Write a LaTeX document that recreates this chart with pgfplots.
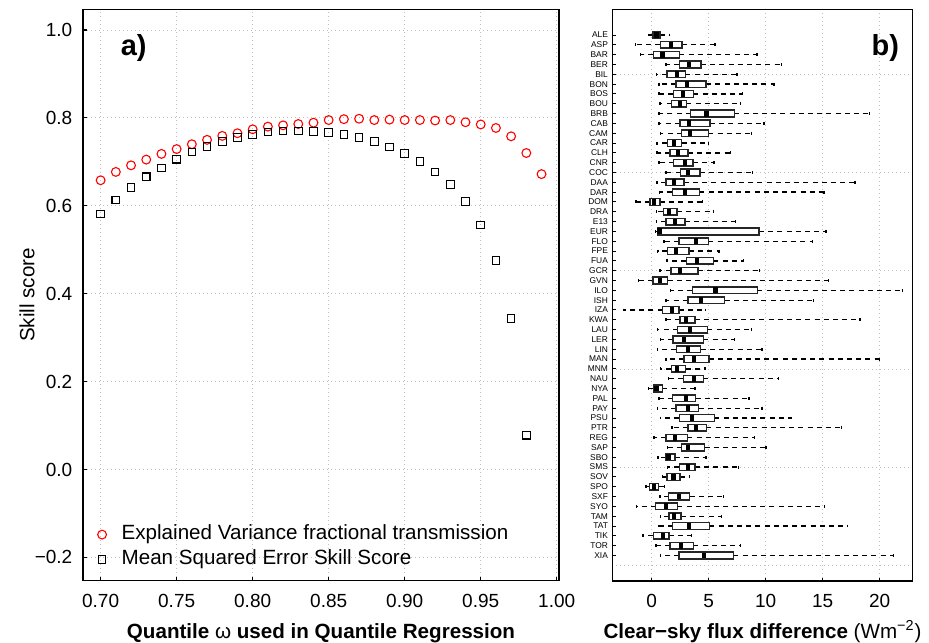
\documentclass[border=0pt]{standalone}
\usepackage{fontspec}
\setmainfont{Liberation Sans}
\usepackage{pgfplots}
\pgfplotsset{compat=1.18}
\usepgfplotslibrary{statistics}
\newcommand{\bx}[6]{\addplot[black, boxplot prepared={draw position=#1, lower whisker=#2, lower quartile=#3, median=#4, upper quartile=#5, upper whisker=#6}] coordinates {};}
\begin{document}
\begin{tikzpicture}
\useasboundingbox (0,0) rectangle (464.5pt,321pt);
% ---------------- panel a ----------------
\begin{axis}[
  at={(41.5pt,30.65pt)}, anchor=south west,
  scale only axis, width=238pt, height=285.7pt,
  xmin=0.6884, xmax=1.0015, ymin=-0.253, ymax=1.047,
  axis line style={line width=0.7pt},
  tick pos=left, tick align=inside, major tick length=2pt,
  tick style={black, line width=0.6pt},
  grid=major, grid style={gray!50, line width=0.4pt, dash pattern=on 0.5pt off 1.5pt},
  xtick={0.7,0.75,0.8,0.85,0.9,0.95,1.0},
  xticklabels={0.70,0.75,0.80,0.85,0.90,0.95,1.00},
  ytick={-0.2,0,0.2,0.4,0.6,0.8,1.0},
  yticklabels={−0.2,0.0,0.2,0.4,0.6,0.8,1.0},
  ticklabel style={font=\fontsize{9.5}{11}\selectfont, inner sep=0pt},
  xticklabel style={anchor=north, yshift=-6.65pt},
  yticklabel style={anchor=east, xshift=-5.15pt},
  every axis x label/.style={at={(axis description cs:0.5,-0.1003)}, anchor=base},
  every axis y label/.style={at={(axis description cs:-0.1176,0.5)}, rotate=90, anchor=center},
  label style={font=\fontsize{10.3}{12}\selectfont},
  xlabel={\textbf{Quantile {\mdseries ω} used in Quantile Regression}},
  ylabel={Skill score},
  legend style={at={(axis description cs:0.0300,0.098)}, anchor=north west, draw=none, fill=none,
    inner sep=0pt, row sep=3pt, column sep=7.6pt,
    font=\fontsize{10.3}{12}\selectfont,
    nodes={inner sep=0pt, text height=7.4pt, text depth=2.1pt}},
  legend cell align=left,
]
\addplot[only marks, mark=o, mark size=2.2pt, red, mark options={line width=0.55pt}] coordinates {
(0.70,0.658) (0.71,0.677) (0.72,0.692) (0.73,0.705) (0.74,0.718) (0.75,0.729)
(0.76,0.740) (0.77,0.750) (0.78,0.759) (0.79,0.765) (0.80,0.774) (0.81,0.780)
(0.82,0.783) (0.83,0.786) (0.84,0.789) (0.85,0.795) (0.86,0.797) (0.87,0.798)
(0.88,0.795) (0.89,0.796) (0.90,0.795) (0.91,0.795) (0.92,0.794) (0.93,0.795)
(0.94,0.790) (0.95,0.785) (0.96,0.777) (0.97,0.758) (0.98,0.720) (0.99,0.672)
};
\addlegendentry{Explained Variance fractional transmission}
\addplot[only marks, mark=square, mark size=1.9pt, black, mark options={line width=0.55pt}] coordinates {
(0.70,0.581) (0.71,0.613) (0.72,0.642) (0.73,0.666) (0.74,0.686) (0.75,0.706)
(0.76,0.722) (0.77,0.735) (0.78,0.746) (0.79,0.755) (0.80,0.762) (0.81,0.768)
(0.82,0.770) (0.83,0.770) (0.84,0.769) (0.85,0.767) (0.86,0.762) (0.87,0.755)
(0.88,0.746) (0.89,0.734) (0.90,0.719) (0.91,0.701) (0.92,0.677) (0.93,0.648)
(0.94,0.610) (0.95,0.556) (0.96,0.476) (0.97,0.343) (0.98,0.078)
};
\addlegendentry{Mean Squared Error Skill Score}
\node[font=\fontsize{14.5}{16}\selectfont\bfseries, anchor=base] at (axis description cs:0.1065,0.919) {a)};
\end{axis}
% ---------------- panel b ----------------
\begin{axis}[
  at={(306.15pt,30.5pt)}, anchor=south west,
  scale only axis, width=150.2pt, height=285.85pt,
  xmin=-3.46, xmax=22.9, ymin=-1.62, ymax=56.6, y dir=reverse,
  axis line style={line width=0.7pt},
  tick pos=left, tick align=inside, major tick length=1.6pt,
  tick style={black, line width=0.5pt},
  xmajorgrids=true, yminorgrids=true, minor tick length=0pt,
  grid style={gray!50, line width=0.4pt, dash pattern=on 0.5pt off 1.5pt},
  minor grid style={gray!50, line width=0.4pt, dash pattern=on 0.5pt off 1.5pt},
  minor ytick={5,15,25,35,45,55},
  xtick={0,5,10,15,20}, xticklabels={0,5,10,15,20},
  ytick={1,...,54},
  yticklabels={ALE,ASP,BAR,BER,BIL,BON,BOS,BOU,BRB,CAB,CAM,CAR,CLH,CNR,COC,DAA,DAR,DOM,DRA,E13,EUR,FLO,FPE,FUA,GCR,GVN,ILO,ISH,IZA,KWA,LAU,LER,LIN,MAN,MNM,NAU,NYA,PAL,PAY,PSU,PTR,REG,SAP,SBO,SMS,SOV,SPO,SXF,SYO,TAM,TAT,TIK,TOR,XIA},
  xticklabel style={font=\fontsize{9.5}{11}\selectfont, inner sep=0pt, anchor=north, yshift=-6.65pt},
  yticklabel style={font=\fontsize{4.2}{5}\selectfont, inner sep=0pt, anchor=east, xshift=-2pt},
  every axis x label/.style={at={(axis description cs:0.5,-0.0997)}, anchor=base},
  label style={font=\fontsize{10.3}{12}\selectfont},
  xlabel={\textbf{Clear−sky flux difference} (Wm\textsuperscript{−2})},
  boxplot/draw direction=x,
  boxplot/box extend=0.68,
  boxplot/whisker extend=0.3,
  boxplot/every box/.style={draw=black!85, fill=white, line width=0.75pt, solid},
  boxplot/every whisker/.style={black, line width=0.65pt, dash pattern=on 2.5pt off 2.1pt},
  boxplot/draw/median/.code={\draw[black, line width=2.2pt, solid]
     (boxplot box cs:\pgfplotsboxplotvalue{median},0.06) -- (boxplot box cs:\pgfplotsboxplotvalue{median},0.94);},
]
\bx{1}{-0.29}{0.09}{0.41}{0.73}{1.55}
\bx{2}{-1.43}{0.76}{1.67}{2.66}{5.56}
\bx{3}{-0.99}{0.15}{0.96}{2.43}{9.24}
\bx{4}{1.26}{2.43}{3.25}{4.33}{11.4}
\bx{5}{0.41}{1.35}{2.19}{2.95}{7.49}
\bx{6}{0.64}{2.11}{3.07}{4.77}{10.73}
\bx{7}{0.64}{1.90}{2.72}{3.65}{7.95}
\bx{8}{0.73}{1.75}{2.46}{3.04}{7.78}
\bx{9}{0.64}{3.42}{4.82}{7.25}{19.1}
\bx{10}{0.64}{2.46}{3.25}{5.12}{9.85}
\bx{11}{0.79}{2.63}{3.36}{4.97}{8.77}
\bx{12}{0.47}{1.37}{1.96}{2.63}{4.97}
\bx{13}{0.47}{1.58}{2.28}{3.16}{6.93}
\bx{14}{0.64}{1.93}{2.92}{3.60}{5.47}
\bx{15}{1.26}{2.54}{3.16}{4.24}{8.86}
\bx{16}{0.47}{1.23}{1.96}{2.81}{17.84}
\bx{17}{0.67}{1.81}{2.92}{4.18}{15.12}
\bx{18}{-1.37}{-0.15}{0.20}{0.73}{4.44}
\bx{19}{0.44}{1.02}{1.52}{2.22}{5.41}
\bx{20}{0.44}{1.23}{2.05}{2.92}{7.34}
\bx{21}{0.32}{0.50}{0.67}{9.42}{15.3}
\bx{22}{1.08}{2.40}{3.86}{4.97}{14.09}
\bx{23}{0.53}{1.37}{2.13}{3.27}{5.91}
\bx{24}{1.35}{3.04}{3.95}{5.41}{8.04}
\bx{25}{0.73}{1.67}{2.46}{4.04}{9.44}
\bx{26}{-1.17}{0.12}{0.70}{1.40}{15.5}
\bx{27}{1.67}{3.57}{5.61}{9.27}{22.0}
\bx{28}{1.26}{3.16}{4.30}{6.40}{14.2}
\bx{29}{-2.46}{0.96}{1.78}{2.40}{4.74}
\bx{30}{1.26}{2.49}{3.01}{3.80}{18.27}
\bx{31}{0.53}{2.28}{3.36}{4.88}{8.77}
\bx{32}{0.79}{1.87}{2.81}{4.53}{7.25}
\bx{33}{0.50}{2.16}{3.16}{4.30}{9.68}
\bx{34}{1.26}{2.81}{3.71}{5.03}{19.97}
\bx{35}{0.79}{1.73}{2.22}{2.98}{4.68}
\bx{36}{1.46}{2.78}{3.71}{4.53}{11.14}
\bx{37}{-0.29}{0.15}{0.41}{0.94}{3.80}
\bx{38}{0.64}{1.84}{2.98}{3.86}{8.54}
\bx{39}{0.50}{2.11}{3.16}{4.12}{9.68}
\bx{40}{0.76}{2.43}{3.54}{5.50}{12.28}
\bx{41}{1.78}{3.16}{3.86}{4.80}{16.67}
\bx{42}{0.20}{1.23}{2.05}{3.13}{9.04}
\bx{43}{1.40}{2.63}{3.16}{4.65}{10.03}
\bx{44}{0.56}{1.23}{1.46}{2.05}{4.77}
\bx{45}{1.37}{2.43}{3.16}{3.80}{7.60}
\bx{46}{0.94}{1.32}{1.90}{2.46}{3.30}
\bx{47}{-0.50}{-0.18}{0.18}{0.61}{1.11}
\bx{48}{0.73}{1.49}{2.37}{3.33}{6.32}
\bx{49}{-1.32}{0.35}{1.26}{2.25}{15.15}
\bx{50}{0.79}{1.52}{1.96}{2.57}{6.14}
\bx{51}{0.61}{1.84}{3.27}{5.06}{17.19}
\bx{52}{-0.76}{0.15}{0.99}{1.52}{3.48}
\bx{53}{0.38}{1.61}{2.57}{3.65}{7.78}
\bx{54}{0.79}{2.37}{4.59}{7.16}{21.2}
\node[font=\fontsize{14.5}{16}\selectfont\bfseries, anchor=base] at (axis description cs:0.909,0.920) {b)};
\end{axis}
\end{tikzpicture}
\end{document}
